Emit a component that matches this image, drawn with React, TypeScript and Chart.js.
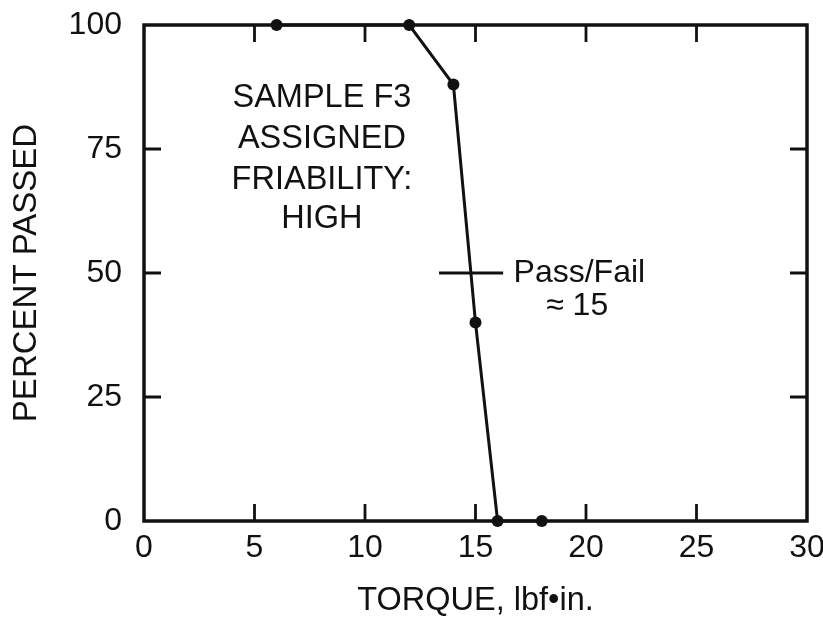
import React, { useEffect, useRef } from "react";
import { Chart, registerables } from "chart.js";

Chart.register(...registerables);

// Data
const torque = [6, 12, 14, 15, 16, 18];
const percentPassed = [100, 100, 88, 40, 0, 0];
const xTickValues = [0, 5, 10, 15, 20, 25, 30];
const yTickValues = [0, 25, 50, 75, 100];

// Annotations (in data units)
const noteLines = ["SAMPLE F3", "ASSIGNED", "FRIABILITY:", "HIGH"];
const noteX = 8.05;
const noteY = [85.2, 77.0, 68.8, 60.8];
const passFailDash = { x1: 13.35, x2: 16.25, y: 50 };
const passFailLines = ["Pass/Fail", "\u2248 15"];
const passFailX = [19.7, 19.6];
const passFailY = [49.9, 43.3];

const FONT = "'Liberation Sans', Arial, Helvetica, sans-serif";
const INK = "#111111";

const framePlugin = {
  id: "frame",
  beforeDatasetsDraw(chart: any) {
    const { ctx, chartArea } = chart;
    const xs = chart.scales.x;
    const ys = chart.scales.y;
    const tl = 17;
    ctx.save();
    ctx.strokeStyle = INK;
    ctx.lineWidth = 2.8;
    ctx.lineCap = "butt";
    xTickValues.forEach((v) => {
      if (v === xs.min || v === xs.max) return;
      const px = xs.getPixelForValue(v);
      ctx.beginPath();
      ctx.moveTo(px, chartArea.bottom);
      ctx.lineTo(px, chartArea.bottom - tl);
      ctx.moveTo(px, chartArea.top);
      ctx.lineTo(px, chartArea.top + tl);
      ctx.stroke();
    });
    yTickValues.forEach((v) => {
      if (v === ys.min || v === ys.max) return;
      const py = ys.getPixelForValue(v);
      ctx.beginPath();
      ctx.moveTo(chartArea.left, py);
      ctx.lineTo(chartArea.left + tl, py);
      ctx.moveTo(chartArea.right, py);
      ctx.lineTo(chartArea.right - tl, py);
      ctx.stroke();
    });
    ctx.lineWidth = 3.5;
    ctx.strokeRect(
      chartArea.left,
      chartArea.top,
      chartArea.right - chartArea.left,
      chartArea.bottom - chartArea.top
    );
    ctx.restore();
  },
  afterDatasetsDraw(chart: any) {
    const { ctx } = chart;
    const xs = chart.scales.x;
    const ys = chart.scales.y;
    ctx.save();
    ctx.fillStyle = INK;
    ctx.strokeStyle = INK;
    ctx.font = `32.5px ${FONT}`;
    ctx.textAlign = "center";
    ctx.textBaseline = "middle";
    noteLines.forEach((t, i) => {
      ctx.fillText(t, xs.getPixelForValue(noteX), ys.getPixelForValue(noteY[i]));
    });
    ctx.font = `32px ${FONT}`;
    passFailLines.forEach((t, i) => {
      ctx.fillText(t, xs.getPixelForValue(passFailX[i]), ys.getPixelForValue(passFailY[i]));
    });
    ctx.lineWidth = 2.8;
    ctx.beginPath();
    const py = ys.getPixelForValue(passFailDash.y);
    ctx.moveTo(xs.getPixelForValue(passFailDash.x1), py);
    ctx.lineTo(xs.getPixelForValue(passFailDash.x2), py);
    ctx.stroke();
    ctx.restore();
  },
};

export default function App() {
  const canvasRef = useRef<HTMLCanvasElement | null>(null);

  useEffect(() => {
    if (!canvasRef.current) return;
    const chart = new Chart(canvasRef.current, {
      type: "line",
      data: {
        datasets: [
          {
            data: torque.map((x, i) => ({ x, y: percentPassed[i] })),
            borderColor: INK,
            backgroundColor: INK,
            borderWidth: 3,
            pointRadius: 6,
            pointBorderWidth: 0,
            pointBackgroundColor: INK,
            tension: 0,
            clip: false as any,
          },
        ],
      },
      options: {
        responsive: false,
        animation: false,
        devicePixelRatio: 1,
        layout: { padding: { top: 25, right: 16, left: 0, bottom: 0 } },
        plugins: {
          legend: { display: false },
          tooltip: { enabled: false },
          title: { display: false },
        },
        scales: {
          x: {
            type: "linear",
            min: 0,
            max: 30,
            afterBuildTicks: (scale: any) => {
              scale.ticks = xTickValues.map((v) => ({ value: v }));
            },
            afterFit: (scale: any) => {
              scale.height = 100;
              scale.paddingLeft = 0;
              scale.paddingRight = 0;
            },
            grid: { display: false, drawTicks: false },
            border: { display: false },
            ticks: {
              color: INK,
              padding: 8,
              maxRotation: 0,
              font: { family: FONT, size: 32 },
            },
            title: {
              display: true,
              text: "TORQUE, lbf\u2022in.",
              color: INK,
              padding: { top: 0, bottom: 0 },
              font: { family: FONT, size: 32.5 },
            },
          },
          y: {
            type: "linear",
            min: 0,
            max: 100,
            afterBuildTicks: (scale: any) => {
              scale.ticks = yTickValues.map((v) => ({ value: v }));
            },
            afterFit: (scale: any) => {
              scale.width = 144;
              scale.paddingTop = 0;
              scale.paddingBottom = 0;
            },
            grid: { display: false, drawTicks: false },
            border: { display: false },
            ticks: {
              color: INK,
              padding: 22,
              font: { family: FONT, size: 32 },
            },
            title: {
              display: true,
              text: "PERCENT PASSED",
              color: INK,
              padding: { top: 7, bottom: 0 },
              font: { family: FONT, size: 33 },
            },
          },
        },
      },
      plugins: [framePlugin],
    });
    return () => chart.destroy();
  }, []);

  return (
    <div style={{ position: "absolute", left: 0, top: 0, width: 823, height: 621, background: "#fff" }}>
      <canvas ref={canvasRef} width={823} height={621} style={{ width: 823, height: 621, display: "block" }} />
    </div>
  );
}
